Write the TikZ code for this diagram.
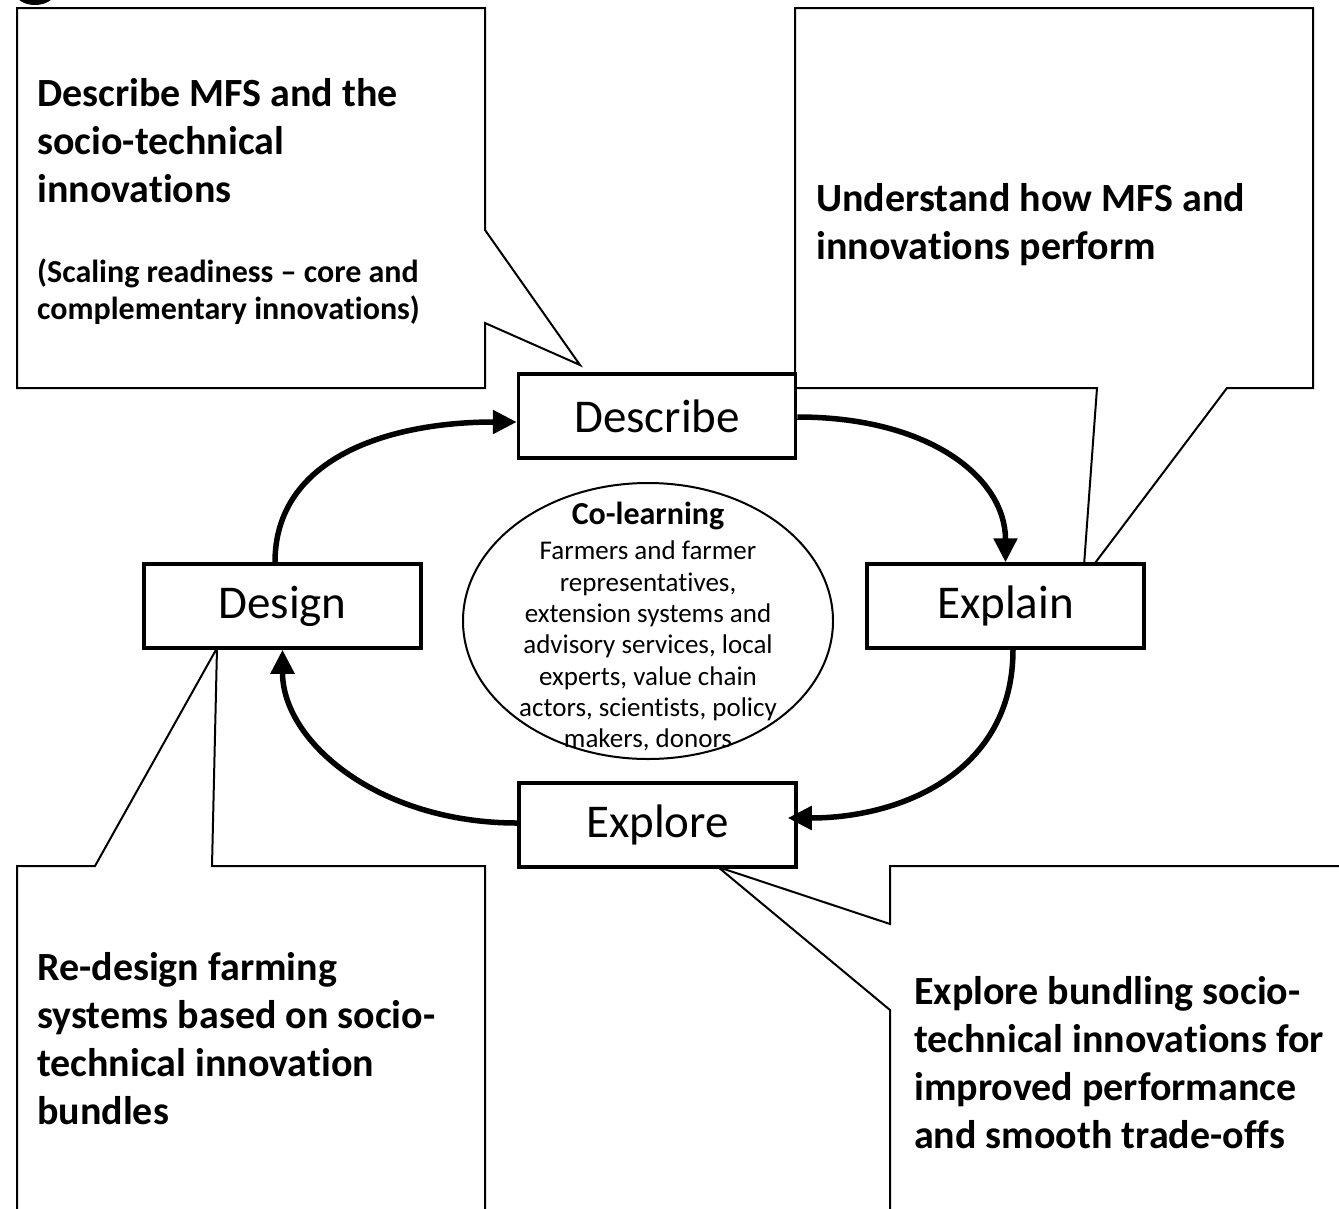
\documentclass[tikz,border=0pt]{standalone}
\usepackage{fontspec}
\setmainfont{Carlito}[Ligatures=NoCommon]
\usetikzlibrary{arrows.meta,shapes.geometric}
\begin{document}
\begin{tikzpicture}[x=1pt,y=-1pt,
  stage/.style={draw, line width=3.5pt, minimum width=277pt, minimum height=84pt, inner sep=0pt, fill=white, font=\fontsize{47}{56}\selectfont},
  callout/.style={draw, line width=2pt, fill=white, line join=miter},
  flow/.style={line width=5.5pt, -{Triangle[length=24pt,width=23pt]}},
  head/.style={anchor=north west, align=left, inner sep=0pt, font=\fontsize{40}{48}\selectfont\bfseries},
  subhead/.style={anchor=north west, align=left, inner sep=0pt, font=\fontsize{32}{37}\selectfont\bfseries},
  bubble/.style={draw, ellipse, line width=2pt, inner sep=0pt, minimum width=370pt, minimum height=276pt},
]
\clip (0,0) rectangle (1339,1208);
\fill[white] (0,0) rectangle (1339,1208);
\fill (35,-8) ellipse [x radius=20, y radius=13];

% tip coordinates of the callouts
\coordinate (tipTL) at (580,365);
\coordinate (tipTR) at (1083,579);
\coordinate (tipBL) at (217,648);
\coordinate (tipBR) at (718,867);

% callouts
\draw[callout] (17,8) -- (485,8) -- (485,230) -- (tipTL) -- (485,323) -- (485,388) -- (17,388) -- cycle;
\draw[callout] (795,8) -- (1313,8) -- (1313,388) -- (1227,388) -- (tipTR) -- (1097,388) -- (795,388) -- cycle;
\draw[callout] (17,866) -- (95,866) -- (tipBL) -- (212,866) -- (485,866) -- (485,1230) -- (17,1230) -- cycle;
\draw[callout] (1360,866) -- (890,866) -- (890,924) -- (tipBR) -- (890,1010) -- (890,1230) -- (1360,1230);

\node[head] (tTL) at (37,78) {Describe MFS and the\\socio-technical\\innovations};
\node[subhead] (tTLs) at (37,259) {(Scaling readiness – core and\\complementary innovations)};
\node[head] (tTR) at (816,183) {Understand how MFS and\\innovations perform};
\node[head] (tBL) at (37,952) {Re-design farming\\systems based on socio-\\technical innovation\\bundles};
\node[head] (tBR) at (914,976) {Explore bundling socio-\\technical innovations for\\improved performance\\and smooth trade-offs};

% central co-learning ellipse
\node[bubble] (colearn) at (648,621) {};
\node[anchor=base, inner sep=0pt, font=\fontsize{32}{37}\selectfont\bfseries] (cltitle) at (648,524) {Co-learning};
\node[anchor=north, align=center, inner sep=0pt, font=\fontsize{27}{31.3}\selectfont] (clbody) at (648,541)
  {Farmers and farmer\\representatives,\\extension systems and\\advisory services, local\\experts, value chain\\actors, scientists, policy\\makers, donors};

% stages
\node[stage] (describe) at (657,416) {Describe};
\node[stage] (design) at (282.5,606) {Design};
\node[stage] (explain) at (1005.5,606) {Explain};
\node[stage] (explore) at (657.5,825) {Explore};

% cycle arrows
\draw[flow] ([xshift=-7.5pt]design.north) .. controls +(0,-104) and +(-129,0) .. ([yshift=-6pt]describe.west);
\draw[flow] ([yshift=-1pt]describe.east) .. controls +(133,0) and +(0,-84) .. (explain.north);
\draw[flow] ([xshift=7.5pt]explain.south) .. controls +(0,122) and +(114,0) .. ([xshift=-10pt,yshift=7pt]explore.east);
\draw[flow] ([yshift=2pt]explore.west) .. controls +(-139,0) and +(0,92) .. (design.south);
\end{tikzpicture}
\end{document}
